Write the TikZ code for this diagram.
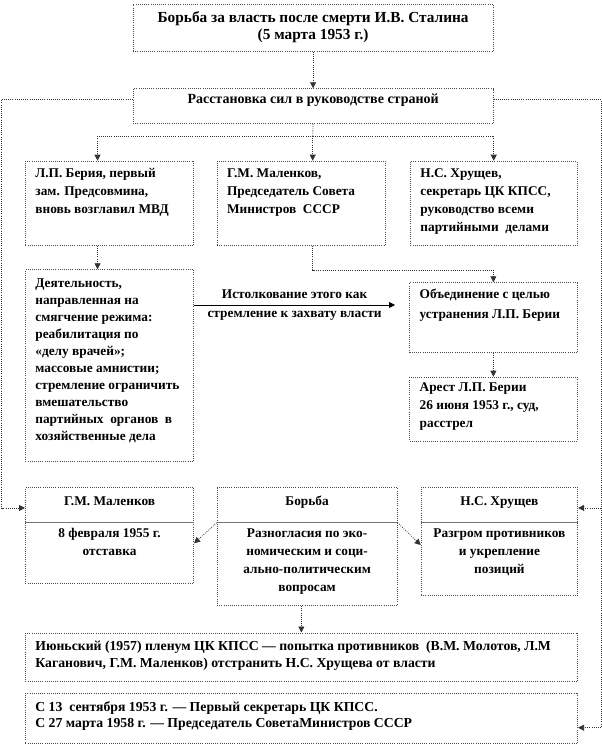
\documentclass[tikz,border=0pt]{standalone}
\usepackage{fontspec}
\setmainfont{Liberation Serif}
\usetikzlibrary{arrows.meta}
% box text: [top gap]{width}{height}{lines}
\newcommand{\lcell}[4][3pt]{\parbox[c][#3][t]{#2}{\vspace*{#1}\raggedright\leftskip=7.5pt\strut#4}}
\newcommand{\ccell}[4][3pt]{\parbox[c][#3][t]{#2}{\vspace*{#1}\centering\strut#4}}
\begin{document}
\begin{tikzpicture}[x=0.75pt, y=-0.75pt, font=\bfseries\fontsize{10}{13.5}\selectfont,
    >={Triangle[length=4.5pt,width=4.5pt]},
    cell/.style={draw=black!70, densely dotted, line width=0.6pt, inner sep=0pt, anchor=north west},
    link/.style={draw=black!80, densely dotted, line width=0.6pt},
    divider/.style={draw=black!55, line width=0.6pt}]
\useasboundingbox (0,0) rectangle (602,756);
% boxes
\node[cell] (stalin) at (132.7,4) {\ccell[4.5pt]{270pt}{35.25pt}{\fontsize{11.5}{13.5}\selectfont Борьба за власть после смерти И.В. Сталина\\[-1pt](5 марта 1953 г.)}};
\node[cell] (rasst) at (132.7,88.3) {\ccell[2pt]{270pt}{26.25pt}{\fontsize{10.5}{13.5}\selectfont Расстановка сил в руководстве страной}};
\node[cell] (beria) at (25,160.7) {\lcell{126.2pt}{63.2pt}{Л.П. Берия, первый\\зам. Предсовмина,\\вновь возглавил МВД}};
\node[cell] (malen1) at (216.7,160.7) {\lcell{126.2pt}{63.2pt}{Г.М. Маленков,\\Председатель Совета\\Министров~~СССР}};
\node[cell] (hrush1) at (410,160.7) {\lcell{125pt}{63.2pt}{Н.С. Хрущев,\\секретарь ЦК КПСС,\\руководство всеми\\партийными~~делами}};
\node[cell] (deyat) at (25,269.3) {\lcell[3.7pt]{126.2pt}{143.5pt}{\baselineskip=12.75pt Деятельность,\\направленная на\\смягчение режима:\\реабилитация по\\«делу врачей»;\\массовые амнистии;\\стремление ограничить\\вмешательство\\партийных~~органов~~в\\хозяйственные дела}};
\node[cell] (obed) at (409.3,282.3) {\lcell[2.7pt]{125.5pt}{52.5pt}{Объединение с целью\\[1.5pt]устранения Л.П. Берии}};
\node[cell] (arest) at (409.3,376.7) {\lcell[1.5pt]{125.5pt}{48pt}{Арест Л.П. Берии\\26 июня 1953 г., суд,\\расстрел}};
\node[cell] (malen2) at (25,487.3) {\ccell[3.8pt]{126.2pt}{71.5pt}{Г.М. Маленков\\[10.5pt]8 февраля 1955 г.\\отставка}};
\node[cell] (borba) at (216.7,487.3) {\ccell[3.8pt]{135pt}{88.5pt}{Борьба\\[10.5pt]Разногласия по эко-\\номическим и соци-\\ально-политическим\\вопросам}};
\node[cell] (hrush2) at (420.7,487.3) {\ccell[3.8pt]{117.5pt}{80.8pt}{Н.С. Хрущев\\[10.5pt]Разгром противников\\и укрепление\\позиций}};
\node[cell] (june) at (25,632.5) {\lcell[3.7pt]{414.2pt}{36pt}{\fontsize{10.3}{13.5}\selectfont Июньский (1957) пленум ЦК КПСС — попытка противников~~(В.М. Молотов, Л.М\\[-1pt]Каганович, Г.М. Маленков) отстранить Н.С. Хрущева от власти}};
\node[cell] (last) at (25,692.7) {\lcell[4pt]{414.2pt}{37.7pt}{\fontsize{10.3}{13.5}\selectfont С 13~~сентября 1953 г. — Первый секретарь ЦК КПСС.\\[-1pt]С 27 марта 1958 г. — Председатель СоветаМинистров СССР}};
% connectors
\coordinate (fork) at (312.7,136);
\coordinate (bend) at (312.7,270);
\coordinate (lft) at (1.5,99.3);
\coordinate (rgt) at (601,99.3);
\coordinate (tip) at (395,305);
\draw[link,->] (stalin) -- (rasst);
\draw[link] (rasst.south) -- (fork);
\draw[link,->] (fork) -| ([xshift=-9pt]beria.north);
\draw[link,->] (fork) -- (fork |- malen1.north);
\draw[link,->] (fork) -| (hrush1.north);
\draw[link,->] ([xshift=-9pt]beria.south) -- ([xshift=-9pt]deyat.north);
\draw[link,->] (bend |- malen1.south) -- (bend) -| (obed.north);
\draw[link,->] (obed) -- (arest);
\draw[line width=0.6pt,->] (tip -| deyat.east) -- (tip)
  node[midway,above=1pt] (lbl1) {Истолкование этого как}
  node[midway,below=1pt] (lbl2) {стремление к захвату власти};
% side lines
\coordinate (mk1) at ([yshift=-15.5pt]malen2.north west);
\coordinate (mk2) at ([yshift=-15.5pt]hrush2.north east);
\coordinate (mk3) at ([yshift=-26.25pt]last.north east);
\draw[link,->] (rasst.west |- lft) -- (lft) |- (mk1);
\draw[link,->] (rasst.east |- rgt) -- (rgt) |- (mk3);
\draw[link,->] (mk2 -| rgt) -- (mk2);
% bottom row
\coordinate (dl) at ([yshift=-26.55pt]borba.north west);
\coordinate (dr) at ([yshift=-26.55pt]borba.north east);
\draw[divider] (dl) -- (dr);
\draw[divider] (dl -| malen2.west) -- (dl -| malen2.east);
\draw[divider] (dl -| hrush2.west) -- (dl -| hrush2.east);
\draw[link,->] (dl) -- ([yshift=-42pt]malen2.north east);
\draw[link,->] (dr) -- ([yshift=-43.3pt]hrush2.north west);
\coordinate (bj) at ([xshift=-4.3pt]borba.south);
\draw[link,->] (bj) -- (bj |- june.north);
\end{tikzpicture}
\end{document}
